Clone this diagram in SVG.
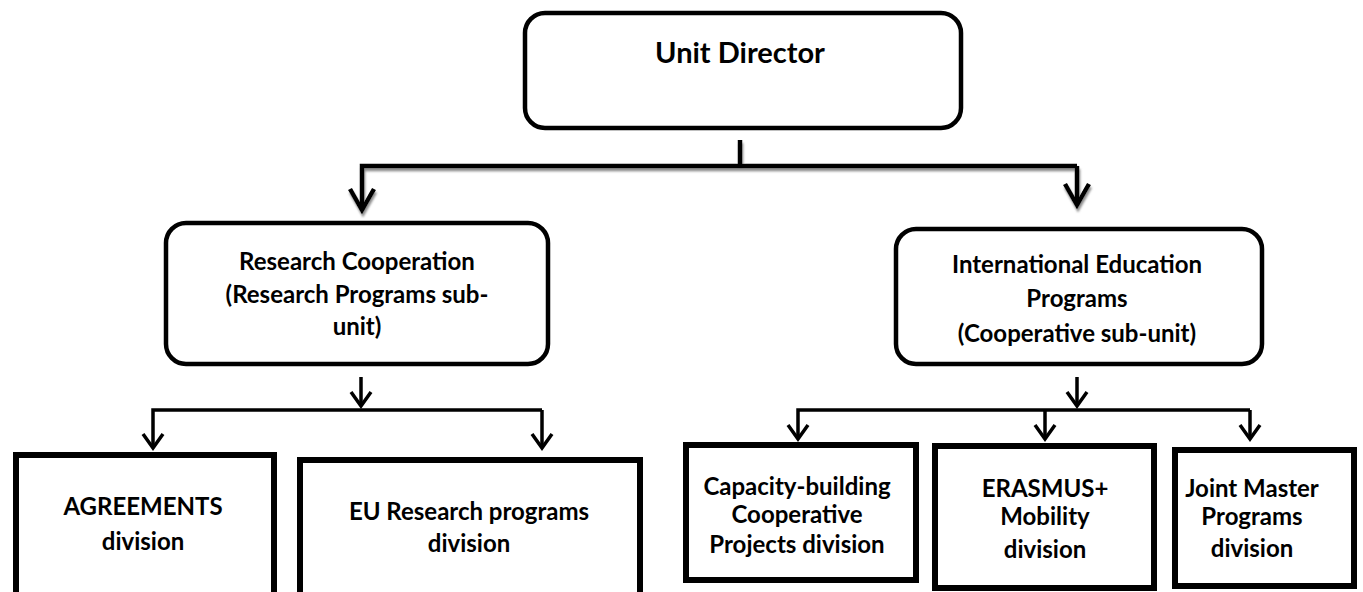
<svg xmlns="http://www.w3.org/2000/svg" width="1363" height="592" viewBox="0 0 1363 592">
<style>
.rbox{fill:#fff;stroke:#000;stroke-width:4.5}
.box{fill:#fff;stroke:#000;stroke-width:6}
.t{font-family:Lato,"Open Sans",sans-serif;font-weight:700;font-size:24px;fill:#000;text-anchor:middle}
.big{font-size:29px}
.c{fill:none;stroke:#000;stroke-width:3.5}
.ct{fill:none;stroke:#000;stroke-width:4.5}
</style>
<defs>
<marker id="ah" markerUnits="userSpaceOnUse" viewBox="-16 -14 20 28" markerWidth="20" markerHeight="28" refX="0" refY="0" orient="auto">
<path d="M-14,-10 L0,0 L-14,10" fill="none" stroke="#000" stroke-width="3.5"/>
</marker>
<marker id="ahb" markerUnits="userSpaceOnUse" viewBox="-26 -16 30 32" markerWidth="30" markerHeight="32" refX="0" refY="0" orient="auto">
<path d="M-21,-12 L0,0 L-21,12" fill="none" stroke="#000" stroke-width="4.5"/>
</marker>
<filter id="sh" x="-10%" y="-10%" width="120%" height="140%">
<feDropShadow dx="1" dy="3" stdDeviation="1" flood-color="#808080" flood-opacity="0.9"/>
</filter>
</defs>

<g id="connectors">
<g filter="url(#sh)">
<path class="ct" d="M740,140 V166"/>
<path class="ct" d="M1077,166 H362 V210" marker-end="url(#ahb)"/>
<path class="ct" d="M1077,166 V205" marker-end="url(#ahb)"/>
</g>
<path class="c" d="M361,377 V406" marker-end="url(#ah)"/>
<path class="c" d="M542,410 H153 V448" marker-end="url(#ah)"/>
<path class="c" d="M542,410 V448" marker-end="url(#ah)"/>
<path class="c" d="M1077,377 V406" marker-end="url(#ah)"/>
<path class="c" d="M1250,410 H798 V439" marker-end="url(#ah)"/>
<path class="c" d="M1250,410 V439" marker-end="url(#ah)"/>
<path class="c" d="M1045,410 V439" marker-end="url(#ah)"/>
</g>

<g id="unit-director">
<rect class="rbox" x="525" y="13" width="436" height="115" rx="20"/>
<text class="t big" x="740" y="63">Unit Director</text>
</g>

<g id="research-cooperation">
<rect class="rbox" x="166" y="223" width="382" height="141" rx="20"/>
<text class="t" x="357" y="270">Research Cooperation</text>
<text class="t" x="357" y="303">(Research Programs sub-</text>
<text class="t" x="357" y="335">unit)</text>
</g>

<g id="international-education">
<rect class="rbox" x="896" y="229" width="366" height="135" rx="20"/>
<text class="t" x="1077" y="273">International Education</text>
<text class="t" x="1077" y="307">Programs</text>
<text class="t" x="1077" y="342">(Cooperative sub-unit)</text>
</g>

<g id="agreements">
<rect class="box" x="16" y="455" width="258" height="145"/>
<text class="t" x="143" y="515">AGREEMENTS</text>
<text class="t" x="143" y="550">division</text>
</g>

<g id="eu-research">
<rect class="box" x="300" y="460" width="340" height="140"/>
<text class="t" x="469" y="520">EU Research programs</text>
<text class="t" x="469" y="552">division</text>
</g>

<g id="capacity-building">
<rect class="box" x="686" y="445" width="230" height="135"/>
<text class="t" x="797" y="495">Capacity-building</text>
<text class="t" x="797" y="523">Cooperative</text>
<text class="t" x="797" y="553">Projects division</text>
</g>

<g id="erasmus">
<rect class="box" x="935" y="446" width="219" height="142"/>
<text class="t" x="1045" y="497">ERASMUS+</text>
<text class="t" x="1045" y="525">Mobility</text>
<text class="t" x="1045" y="558">division</text>
</g>

<g id="joint-master">
<rect class="box" x="1175" y="450" width="179" height="136"/>
<text class="t" x="1252" y="497">Joint Master</text>
<text class="t" x="1252" y="525">Programs</text>
<text class="t" x="1252" y="557">division</text>
</g>
</svg>
